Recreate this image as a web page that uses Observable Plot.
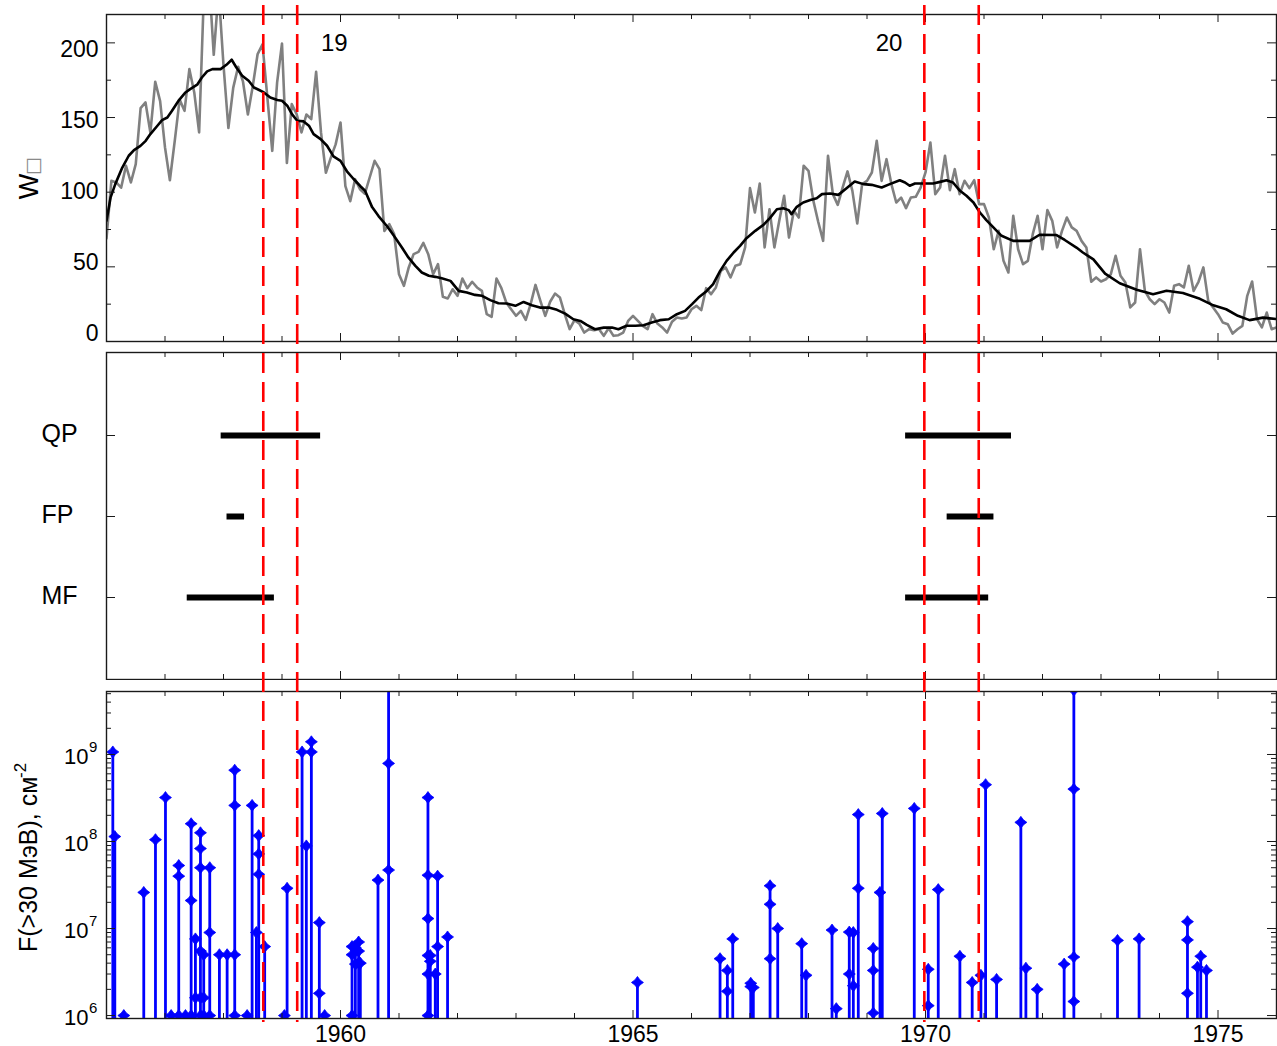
<!DOCTYPE html>
<html>
<head>
<meta charset="utf-8">
<script src="https://cdn.jsdelivr.net/npm/d3@7"></script>
<script src="https://cdn.jsdelivr.net/npm/@observablehq/plot@0.6"></script>
<style>
  html, body { margin: 0; padding: 0; background: #fff; }
  #wrap { position: relative; width: 1277px; height: 1046px; overflow: hidden; background: #fff; }
  #wrap > div { position: absolute; left: 0; }
  #p1 { top: 0; } #p2 { top: 346px; } #p3 { top: 680px; }
  #ov { top: 0; z-index: 10; pointer-events: none; }
</style>
</head>
<body>
<div id="wrap"><div id="p1"></div><div id="p2"></div><div id="p3"></div><div id="ov"></div></div>
<script>
// ---------------- DATA ----------------
// Monthly sunspot number W (grey), starting January 1956
const sunspotStartYear = 1956;
const sunspotMonthly = [
  69, 107.6, 106.5, 103, 117.7, 106.5, 118.8, 156.3, 160.1, 140, 174, 161,
  130, 108, 134.4, 162, 154.5, 182.4, 166.8, 140, 235, 245, 192, 235,
  185, 143, 170, 184, 174, 152, 171, 192.5, 199, 163.4, 127.7, 173.5,
  199.6, 119.5, 159, 152.3, 140, 152, 149, 180.6, 140, 113, 123, 132,
  146.7, 104, 94, 108.7, 102, 99, 110, 121, 115.5, 74, 78.6, 72,
  45, 37.3, 49.6, 58.5, 60, 66, 58.5, 45, 51.8, 29.9, 28.8, 35,
  30.6, 42.2, 35.7, 40, 36.2, 33.9, 18.3, 16.5, 42.2, 35.7, 26.1, 21.6,
  17.2, 20.5, 14.5, 25, 37.9, 27.2, 17.2, 26.6, 32.1, 29.5, 18.3, 8.3,
  14.3, 12, 6, 8.3, 7.6, 8.3, 3.8, 8.9, 3.8, 4.2, 6, 13.8,
  17.2, 13.8, 10.5, 8.3, 18.3, 12, 9.4, 6, 13.2, 16.1, 15.4, 16.1,
  21.6, 23.9, 21, 35.7, 31.7, 36.2, 47.3, 49.6, 42.9, 50.7, 51.8, 63,
  102.7, 86.4, 105.8, 63, 88.6, 63, 80.8, 97.6, 69.6, 87.5, 83, 117.7,
  114.3, 94.2, 80, 67.4, 124.4, 98.7, 91.5, 103, 113.9, 100.9, 79, 105.4,
  107.6, 113.2, 134.4, 107.6, 122.1, 105.4, 93.1, 96.4, 89.3, 96.4, 96.9, 103.1,
  113.2, 133.3, 98.7, 103.1, 124.4, 101.4, 115.4, 98.7, 107.6, 102.7, 108, 92,
  92, 83, 61.8, 74.1, 54, 46.2, 84.2, 61.8, 51.8, 54, 71.9, 84.2,
  61.8, 88, 80.8, 63, 74.1, 83, 76.4, 74.1, 67.4, 63, 40, 42.9,
  40.2, 41.7, 45, 57.4, 44, 39.5, 22.8, 26.1, 61.8, 33.9, 28.3, 25,
  28.3, 26.1, 19.4, 37.3, 38.4, 36.2, 50.7, 33.9, 40, 49.6, 27.2, 22.8,
  18.3, 12.7, 11.6, 5.3, 8.2, 10.5, 30.6, 40.2, 15, 9.4, 19.4, 8.2,
  9.4
];

// Smoothed sunspot number (black)
const smoothYears = [
  1956.0, 1956.07, 1956.15, 1956.27, 1956.38, 1956.47, 1956.58, 1956.67, 1956.75, 1956.87,
  1956.95, 1957.04, 1957.12, 1957.24, 1957.35, 1957.43, 1957.55, 1957.63, 1957.72, 1957.81,
  1957.95, 1958.05, 1958.14, 1958.22, 1958.32, 1958.43, 1958.52, 1958.60, 1958.69, 1958.80,
  1958.92, 1959.00, 1959.09, 1959.17, 1959.26, 1959.37, 1959.46, 1959.54, 1959.66, 1959.77,
  1959.88, 1960.00, 1960.11, 1960.22, 1960.34, 1960.42, 1960.54, 1960.65, 1960.80, 1960.91,
  1961.05, 1961.16, 1961.28, 1961.39, 1961.51, 1961.62, 1961.73, 1961.88, 1962.02, 1962.16,
  1962.30, 1962.42, 1962.56, 1962.70, 1962.84, 1962.99, 1963.13, 1963.27, 1963.41, 1963.56,
  1963.70, 1963.84, 1963.98, 1964.10, 1964.21, 1964.35, 1964.50, 1964.64, 1964.75, 1964.89,
  1965.04, 1965.18, 1965.32, 1965.46, 1965.61, 1965.75, 1965.89, 1966.01, 1966.12, 1966.26,
  1966.37, 1966.49, 1966.60, 1966.72, 1966.83, 1966.94, 1967.09, 1967.23, 1967.34, 1967.46,
  1967.57, 1967.66, 1967.71, 1967.80, 1967.91, 1968.03, 1968.14, 1968.23, 1968.37, 1968.51,
  1968.65, 1968.79, 1968.94, 1969.08, 1969.25, 1969.39, 1969.56, 1969.65, 1969.73, 1969.82,
  1969.96, 1970.13, 1970.25, 1970.36, 1970.47, 1970.59, 1970.70, 1970.82, 1970.93, 1971.04,
  1971.16, 1971.30, 1971.50, 1971.78, 1971.95, 1972.24, 1972.38, 1972.58, 1972.69, 1972.87,
  1973.07, 1973.32, 1973.61, 1973.89, 1974.12, 1974.40, 1974.69, 1974.92, 1975.14, 1975.34,
  1975.54, 1975.77, 1976.00
];
const smoothValues = [
  80.8, 96.5, 105.4, 116.5, 124.4, 128.2, 131, 134.4, 138.9, 144.5,
  148.3, 150, 154.5, 161.7, 166.8, 169, 172, 176.8, 180.9, 182.4,
  182.4, 185.3, 188.7, 183.5, 178, 174.6, 170.1, 168.6, 166.8, 163.4,
  161.7, 161.2, 157.9, 152.3, 147.8, 147.4, 144.5, 138.9, 135.5, 131.1,
  124, 121, 114, 109, 104, 101, 90, 84, 77, 71,
  63, 56.3, 50.6, 46.2, 44, 43.3, 42.4, 40.6, 33.9, 32.8,
  31.2, 30.6, 27.7, 25.6, 25.4, 23.9, 26.5, 24.3, 22.7, 22.7,
  21.2, 18.7, 14.9, 13.8, 11.1, 8.2, 9.3, 9.3, 8.2, 10.5,
  10.5, 10.9, 12.7, 14.3, 14.9, 18.3, 20.5, 25, 29.4, 33.9,
  38.4, 47.3, 54, 59.6, 64.1, 69.2, 74.1, 78.1, 82.6, 88.6,
  89.3, 88, 85.3, 90.2, 93.1, 94.7, 96, 98.7, 99.1, 98.2,
  102.7, 107.2, 105.4, 104.9, 103.1, 105.4, 108, 106.5, 104.3, 105.8,
  105.8, 105.8, 106.9, 108, 106.5, 100.9, 97.6, 93.1, 86.4, 81.3,
  76.4, 70.8, 67.4, 67.4, 71.5, 71.3, 68, 62.9, 59.6, 55,
  45.5, 39, 34.7, 31.7, 34, 32.5, 28.6, 24.2, 21.6, 17.2,
  14.3, 16, 15
];

// Cycle numbers
const cycleLabels = ["19", "20"];
const cycleLabelYears = [1959.895, 1969.376];
const cycleLabelLevel = 199.4;

// Axis titles
const topTitleLetter = "W";
const topTitleMark = "\u25A1";
const bottomTitle = "F(>30 МэВ), см";
const bottomTitleSup = "-2";

// Middle panel: periods
const periodRows = ["QP", "FP", "MF"];
const periodName  = ["QP", "FP", "MF", "QP", "FP", "MF"];
const periodStart = [1957.96, 1958.06, 1957.38, 1969.66, 1970.37, 1969.66];
const periodEnd   = [1959.66, 1958.36, 1958.87, 1971.47, 1971.17, 1971.08];

// Vertical red dashed markers
const markerYears = [1958.68, 1959.26, 1969.98, 1970.91];

// Bottom panel: proton event fluences F(>30 MeV), cm^-2
const eventYear = [
  1956.108, 1956.142, 1956.296, 1956.637, 1956.837, 1957.008, 1957.105,
  1957.235, 1957.235, 1957.235, 1957.350,
  1957.447, 1957.447, 1957.447, 1957.520, 1957.520,
  1957.606, 1957.606, 1957.606, 1957.606, 1957.606, 1957.606,
  1957.662, 1957.662, 1957.662, 1957.765, 1957.765, 1957.765,
  1957.930, 1958.062, 1958.192, 1958.192, 1958.192, 1958.192,
  1958.404, 1958.489, 1958.562, 1958.602, 1958.602, 1958.602,
  1958.704, 1959.041, 1959.087, 1959.343, 1959.416, 1959.502, 1959.502,
  1959.638, 1959.638, 1959.729,
  1960.197, 1960.197, 1960.197, 1960.254, 1960.254, 1960.310, 1960.310, 1960.310, 1960.339,
  1960.641, 1960.822, 1960.822, 1960.822,
  1961.495, 1961.495, 1961.495, 1961.495, 1961.495, 1961.495,
  1961.535, 1961.535, 1961.620, 1961.660, 1961.660, 1961.830,
  1965.076, 1966.488, 1966.613, 1966.613, 1966.705, 1967.013, 1967.013, 1967.057,
  1967.343, 1967.343, 1967.343, 1967.474, 1967.884, 1967.958, 1968.402, 1968.475,
  1968.697, 1968.697, 1968.766, 1968.766, 1968.851, 1968.851,
  1969.107, 1969.107, 1969.107, 1969.222, 1969.261, 1969.808,
  1970.047, 1970.047, 1970.218, 1970.588, 1970.798, 1970.947, 1971.027, 1971.215,
  1971.630, 1971.716, 1971.909, 1972.370, 1972.536, 1972.536, 1972.536, 1972.536,
  1973.282, 1973.651, 1974.478, 1974.478, 1974.478, 1974.649, 1974.705, 1974.803
];
const eventFlux = [
  1.07e9, 1.14e8, 1.0e6, 2.6e7, 1.05e8, 3.2e8, 1.0e6,
  5.3e7, 4.0e7, 1.0e6, 1.0e6,
  1.6e8, 2.1e7, 1.0e6, 7.6e6, 1.6e6,
  1.26e8, 8.3e7, 5.0e7, 5.5e6, 1.6e6, 1.0e6,
  5.0e6, 1.6e6, 1.0e6, 5.0e7, 9.0e6, 1.0e6,
  5.0e6, 5.0e6, 6.6e8, 2.6e8, 5.0e6, 1.0e6,
  1.0e6, 2.6e8, 9.0e6, 1.17e8, 7.2e7, 4.2e7,
  6.2e6, 1.0e6, 2.9e7, 1.07e9, 8.9e7, 1.4e9, 1.07e9,
  1.17e7, 1.8e6, 1.0e6,
  6.2e6, 5.0e6, 1.0e6, 6.0e6, 3.9e6, 7.0e6, 5.5e6, 4.0e6, 4.0e6,
  3.6e7, 8.0e9, 7.9e8, 4.7e7,
  3.2e8, 4.1e7, 1.3e7, 4.9e6, 3.0e6, 1.0e6,
  4.9e6, 4.2e6, 3.0e6, 4.0e7, 6.2e6, 8.0e6,
  2.4e6, 4.5e6, 3.3e6, 1.9e6, 7.6e6, 2.35e6, 2.15e6, 2.1e6,
  3.1e7, 1.9e7, 4.5e6, 1.0e7, 6.7e6, 2.9e6, 9.6e6, 1.2e6,
  9.1e6, 3.0e6, 9.0e6, 2.2e6, 2.04e8, 2.9e7,
  5.9e6, 3.3e6, 1.07e6, 2.6e7, 2.1e8, 2.4e8,
  3.4e6, 1.3e6, 2.8e7, 4.8e6, 2.4e6, 2.9e6, 4.5e8, 2.6e6,
  1.66e8, 3.5e6, 2.0e6, 3.9e6, 5.5e9, 4.0e8, 4.7e6, 1.45e6,
  7.3e6, 7.6e6, 1.2e7, 7.4e6, 1.8e6, 3.6e6, 4.8e6, 3.3e6
];

// Ticks / labels
const yearTicks = d3.range(1956, 1977);
const majorYearTicks = [1960, 1965, 1970, 1975];
const wTicks = [0, 25, 50, 75, 100, 125, 150, 175, 200];
const wLabels = [0, 50, 100, 150, 200];
const fluxMajor = [1e6, 1e7, 1e8, 1e9];
const fluxExponents = ["6", "7", "8", "9"];
const fluxMinor = [2e5,3e5,4e5,5e5,6e5,7e5,8e5,9e5, 2e6,3e6,4e6,5e6,6e6,7e6,8e6,9e6, 2e7,3e7,4e7,5e7,6e7,7e7,8e7,9e7, 2e8,3e8,4e8,5e8,6e8,7e8,8e8,9e8, 2e9,3e9,4e9,5e9];

// ---------------- LAYOUT ----------------
const W = 1277, ML = 106, MR = 1, FW = W - ML - MR;
const FONT = "Liberation Sans, Arial, Helvetica, sans-serif";
const INK = "#1a1a1a";
const xScale = {domain: [1956, 1976], axis: null};

const monthly = sunspotMonthly.map((v, i) => ({t: sunspotStartYear + i / 12, v}));
const smooth = smoothYears.map((t, i) => ({t, v: smoothValues[i]}));
const periods = periodName.map((n, i) => ({row: n, x1: periodStart[i], x2: periodEnd[i]}));
const events = eventYear.map((t, i) => ({t, f: eventFlux[i]}));
const stems = d3.rollups(events, v => d3.max(v, d => d.f), d => d.t).map(([t, f]) => ({t, f}));

const minorYears = yearTicks.filter(y => !majorYearTicks.includes(y));
function xTicks(H) {
  return [
    Plot.ruleX(minorYears, {x: d => d, insetBottom: H - 5, stroke: INK, strokeWidth: 1}),
    Plot.ruleX(majorYearTicks, {x: d => d, insetBottom: H - 8, stroke: INK, strokeWidth: 1}),
    Plot.ruleX(minorYears, {x: d => d, insetTop: H - 5, stroke: INK, strokeWidth: 1}),
    Plot.ruleX(majorYearTicks, {x: d => d, insetTop: H - 8, stroke: INK, strokeWidth: 1})
  ];
}
function yTicks(values, len) {
  return [
    Plot.ruleY(values, {y: d => d, insetRight: FW - len, stroke: INK, strokeWidth: 1}),
    Plot.ruleY(values, {y: d => d, insetLeft: FW - len, stroke: INK, strokeWidth: 1})
  ];
}
const frame = Plot.frame({stroke: INK, strokeWidth: 1.4});

// ---------- Panel 1: sunspot numbers ----------
const H1 = 346, MT1 = 14, MB1 = 5, FH1 = H1 - MT1 - MB1;
const p1 = Plot.plot({
  width: W, height: H1, marginLeft: ML, marginRight: MR, marginTop: MT1, marginBottom: MB1,
  x: xScale,
  y: {domain: [0, 219], axis: null},
  style: {fontFamily: FONT, background: "transparent"},
  marks: [
    Plot.line(monthly, {x: "t", y: "v", stroke: "#808080", strokeWidth: 2.6, clip: true}),
    Plot.line(smooth, {x: "t", y: "v", stroke: "#000", strokeWidth: 2.6, clip: true}),
    ...xTicks(FH1),
    ...yTicks(wTicks.filter(v => v % 50 !== 0), 5),
    ...yTicks(wTicks.filter(v => v % 50 === 0), 9),
    frame,
    Plot.text(wLabels, {y: d => 5.2 + 0.952 * d, text: d => String(d), frameAnchor: "left", dx: -8,
      textAnchor: "end", lineAnchor: "middle", fontSize: 23, fill: "#000", fontFamily: FONT}),
    Plot.text(cycleLabels, {x: (d, i) => cycleLabelYears[i], y: () => cycleLabelLevel, text: d => d,
      textAnchor: "middle", lineAnchor: "middle", fontSize: 24, fill: "#000", fontFamily: FONT}),
    Plot.text([topTitleLetter], {text: d => d, frameAnchor: "left", dx: -77, dy: 8.5, rotate: -90,
      textAnchor: "middle", lineAnchor: "middle", fontSize: 27, fill: "#000", fontFamily: FONT}),
    Plot.text([topTitleMark], {text: d => d, frameAnchor: "left", dx: -74, dy: -12, rotate: -90,
      textAnchor: "middle", lineAnchor: "middle", fontSize: 19, fill: "#8a8a8a", fontFamily: "DejaVu Sans, sans-serif"})
  ]
});
document.getElementById("p1").appendChild(p1);

// ---------- Panel 2: periods ----------
const H2 = 334, MT2 = 6, MB2 = 1, FH2 = H2 - MT2 - MB2;
const p2 = Plot.plot({
  width: W, height: H2, marginLeft: ML, marginRight: MR, marginTop: MT2, marginBottom: MB2,
  x: xScale,
  y: {type: "point", domain: periodRows, padding: 1, axis: null},
  style: {fontFamily: FONT, background: "transparent"},
  marks: [
    Plot.ruleY(periods, {y: "row", x1: "x1", x2: "x2", stroke: "#000", strokeWidth: 6}),
    ...xTicks(FH2),
    ...yTicks(periodRows, 9),
    frame,
    Plot.text(periodRows, {y: d => d, text: d => d, frameAnchor: "left", dx: -65, dy: -2,
      textAnchor: "start", lineAnchor: "middle", fontSize: 25, fill: "#000", fontFamily: FONT})
  ]
});
document.getElementById("p2").appendChild(p2);

// ---------- Panel 3: proton fluences ----------
const H3 = 366, MT3 = 11, MB3 = 28, FH3 = H3 - MT3 - MB3;
const yMin = Math.pow(10, 5.966), yMax = Math.pow(10, 9.724);
const star4 = {
  draw(context, size) {
    const R = Math.sqrt(size / Math.PI) * 1.2, r = R * 0.6;
    for (let k = 0; k < 8; ++k) {
      const a = (k * Math.PI) / 4 - Math.PI / 2, rr = k % 2 ? r : R;
      const px = rr * Math.cos(a), py = rr * Math.sin(a);
      if (k === 0) context.moveTo(px, py); else context.lineTo(px, py);
    }
    context.closePath();
  }
};
const p3 = Plot.plot({
  width: W, height: H3, marginLeft: ML, marginRight: MR, marginTop: MT3, marginBottom: MB3,
  x: xScale,
  y: {type: "log", domain: [yMin, yMax], axis: null},
  style: {fontFamily: FONT, background: "transparent"},
  marks: [
    Plot.ruleX(stems, {x: "t", y1: () => yMin, y2: "f", stroke: "#0000ff", strokeWidth: 2.8, clip: true}),
    Plot.dot(events, {x: "t", y: "f", symbol: star4, r: 5, fill: "#0000ff", stroke: "#0000ff", strokeWidth: 0.8, clip: true}),
    ...xTicks(FH3),
    ...yTicks(fluxMinor.filter(v => v > yMin && v < yMax), 5),
    ...yTicks(fluxMajor, 9),
    frame,
    Plot.text(fluxMajor, {y: d => d, text: () => "10", frameAnchor: "left", dx: -18, dy: 2,
      textAnchor: "end", lineAnchor: "middle", fontSize: 22, fill: "#000", fontFamily: FONT}),
    Plot.text(fluxMajor, {y: d => d, text: (d, i) => fluxExponents[i], frameAnchor: "left", dx: -17.5, dy: -7,
      textAnchor: "start", lineAnchor: "middle", fontSize: 15, fill: "#000", fontFamily: FONT}),
    Plot.text(majorYearTicks, {x: d => d, text: d => String(d), frameAnchor: "bottom", dy: 16,
      textAnchor: "middle", lineAnchor: "middle", fontSize: 23, fill: "#000", fontFamily: FONT}),
    Plot.text([bottomTitle], {text: d => d, frameAnchor: "left", dx: -78, dy: 97, rotate: -90,
      textAnchor: "start", lineAnchor: "middle", fontSize: 25, fill: "#000", fontFamily: FONT}),
    Plot.text([bottomTitleSup], {text: d => d, frameAnchor: "left", dx: -86, dy: -77, rotate: -90,
      textAnchor: "start", lineAnchor: "middle", fontSize: 17, fill: "#000", fontFamily: FONT})
  ]
});
document.getElementById("p3").appendChild(p3);

// ---------- Overlay: red dashed markers across all panels ----------
const ov = Plot.plot({
  width: W, height: 1046, marginLeft: ML, marginRight: MR, marginTop: 5, marginBottom: 24,
  x: xScale, y: {axis: null},
  style: {background: "transparent"},
  marks: [
    Plot.ruleX(markerYears, {x: d => d, stroke: "#ff0000", strokeWidth: 2.6, strokeDasharray: "20,9"})
  ]
});
document.getElementById("ov").appendChild(ov);
</script>
</body>
</html>
